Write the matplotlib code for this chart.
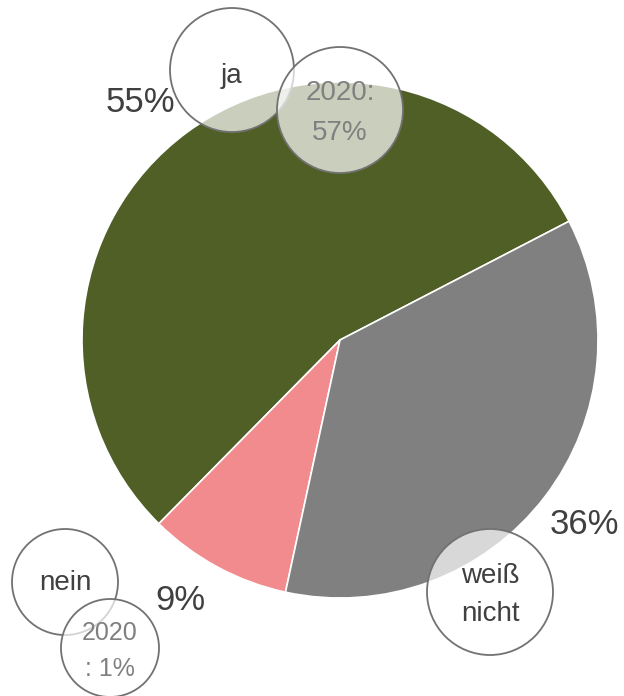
import matplotlib
matplotlib.use("Agg")
import matplotlib.pyplot as plt
from matplotlib.patches import Circle
from matplotlib import font_manager

categories = ["ja", "nein", "weiß\nnicht"]
values = [55, 9, 36]
pct_labels = ["55%", "9%", "36%"]
prev_labels = ["2020:\n57%", "2020\n: 1%", None]
colors = ["#4F5F26", "#F28B8E", "#808080"]

names = {f.name for f in font_manager.fontManager.ttflist}
fam = ["Liberation Sans Narrow", "DejaVu Sans"] if "Liberation Sans Narrow" in names else ["Liberation Sans", "DejaVu Sans"]
plt.rcParams['font.family'] = fam

W, H = 624, 696
fig = plt.figure(figsize=(W / 100, H / 100), dpi=100)
ax = fig.add_axes([0, 0, 1, 1])
ax.set_xlim(0, W)
ax.set_ylim(0, H)
ax.set_aspect('equal')
ax.axis('off')

def Y(y):
    return H - y

ax.pie(values, colors=colors, startangle=27.4, counterclock=True,
       center=(340, Y(340)), radius=258,
       wedgeprops=dict(edgecolor="white", linewidth=1.2))
ax.set_xlim(0, W)
ax.set_ylim(0, H)

dark = "#404040"
grey = "#808080"

# percentage labels
pct_pos = [(140, 102, "center"), (180, 601, "center"), (619, 525, "right")]
for (x, y, ha), t in zip(pct_pos, pct_labels):
    ax.text(x, Y(y), t, ha=ha, va="center", fontsize=25, color=dark)

def bubble(x, y, r, text, color, fs, z, ty=None, ls=1.75):
    c = Circle((x, Y(y)), r, facecolor=(1, 1, 1, 0.7), edgecolor="#727272",
               linewidth=1.3, zorder=z)
    ax.add_patch(c)
    ty = y if ty is None else ty
    ax.text(x, Y(ty), text, ha="center", va="center", fontsize=fs, color=color,
            linespacing=ls, zorder=z + 0.5)

# category bubbles
bubble(232, 70, 62, categories[0], dark, 20, 5, ty=76)
bubble(65, 582, 53, categories[1], dark, 20, 5, ty=583)
bubble(490, 592, 63, categories[2], dark, 20, 5, ty=595, ls=1.6)
# 2020 bubbles
bubble(340, 110, 63, prev_labels[0], grey, 20, 7, ty=113, ls=1.75)
bubble(110, 648, 49, prev_labels[1], grey, 18, 7, ty=651, ls=1.6)

fig.savefig("out.png", dpi=100)
